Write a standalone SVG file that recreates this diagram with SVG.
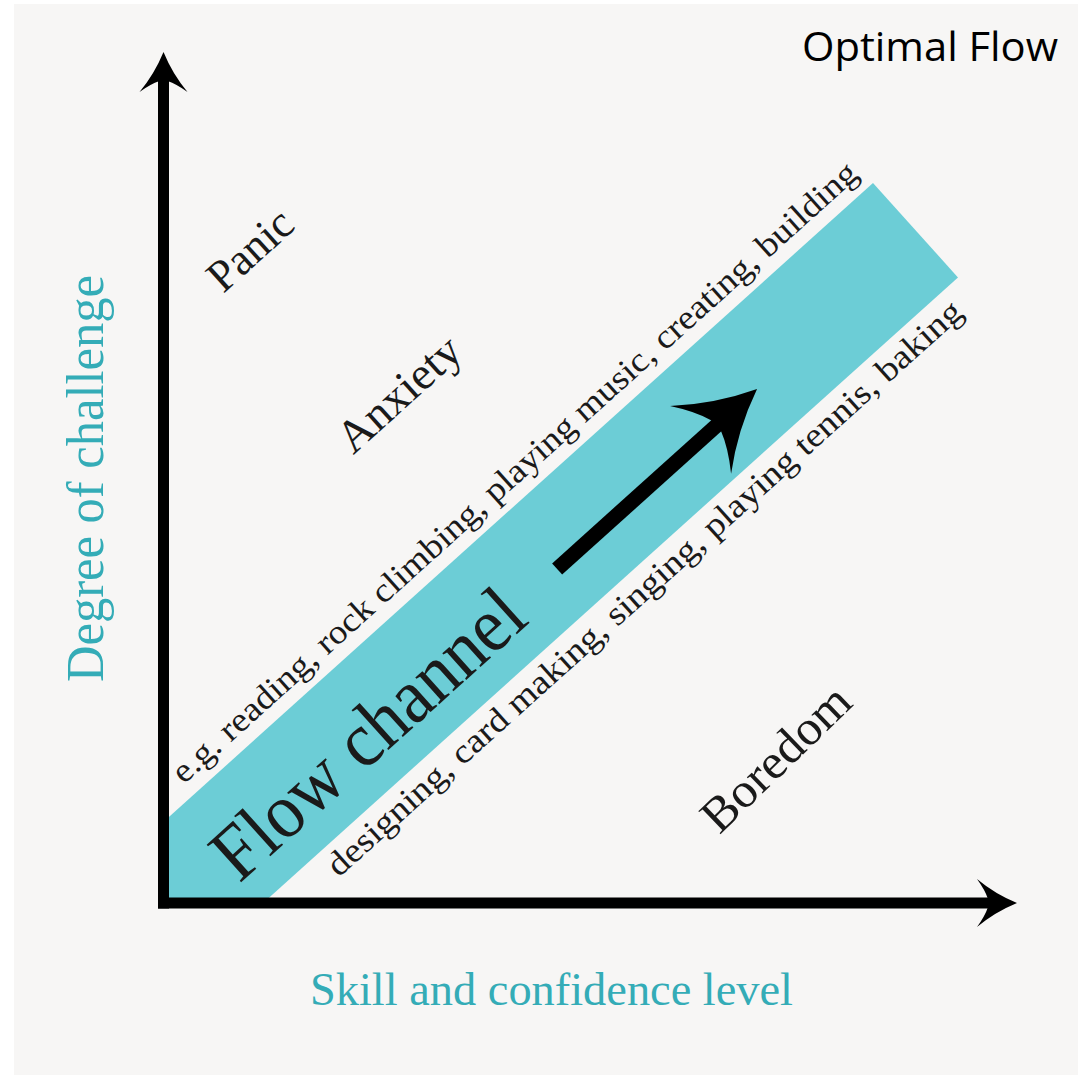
<svg xmlns="http://www.w3.org/2000/svg" width="1078" height="1075" viewBox="0 0 1078 1075">
  <style>
    .serif { font-family: "Liberation Serif", "Times New Roman", serif; fill: #1a1a1a; }
    .teal { font-family: "Liberation Serif", "Times New Roman", serif; fill: #34acb7; }
    .title { font-family: "Open Sans", "Noto Sans", sans-serif; fill: #000000; }
    .axis { stroke: #000000; stroke-width: 11; fill: none; stroke-linecap: butt; }
    .shaft { stroke: #000000; stroke-width: 15; fill: none; stroke-linecap: butt; }
  </style>
  <defs>
    <path id="head" d="M0,0 Q-22,-9 -40,-24 Q-32,-13 -29,-4 L-29,4 Q-32,13 -40,24 Q-22,9 0,0 Z" fill="#000000"/>
    <clipPath id="plotClip">
      <rect x="160" y="0" width="918" height="903"/>
    </clipPath>
  </defs>

  <g id="background">
    <rect x="0" y="0" width="1078" height="1075" fill="#ffffff"/>
    <rect x="14" y="4" width="1064" height="1071" fill="#f7f6f5"/>
  </g>

  <g id="flow-band" clip-path="url(#plotClip)">
    <rect transform="translate(873,183) rotate(-42)" x="-1300" y="0" width="1300" height="127" fill="#6ccdd6"/>
  </g>

  <g id="band-texts" transform="translate(873,183) rotate(-42)">
    <g id="examples-upper">
      <text class="serif" x="-915" y="-14" font-size="34" textLength="910" lengthAdjust="spacingAndGlyphs">e.g. reading, rock climbing, playing music, creating, building</text>
    </g>
    <g id="flow-channel">
      <text class="serif" x="-940" y="97" font-size="78" textLength="392" lengthAdjust="spacingAndGlyphs">Flow channel</text>
    </g>
    <g id="examples-lower">
      <text class="serif" x="-862" y="159" font-size="34" textLength="842" lengthAdjust="spacingAndGlyphs">designing, card making, singing, playing tennis, baking</text>
    </g>
    <g id="progress-arrow">
      <line class="shaft" x1="-493" y1="75.5" x2="-274" y2="75.5"/>
      <use href="#head" transform="translate(-224,75.5) scale(1.9)"/>
    </g>
  </g>

  <g id="connectors">
    <line class="axis" x1="163.5" y1="80" x2="163.5" y2="908.5"/>
    <line class="axis" x1="158" y1="903" x2="990" y2="903"/>
    <use href="#head" transform="translate(163.5,52) rotate(-90)"/>
    <use href="#head" transform="translate(1017,903)"/>
  </g>

  <g id="panic">
    <text class="serif" transform="translate(260,261) rotate(-42)" x="0" y="0" font-size="45" text-anchor="middle" textLength="99" lengthAdjust="spacingAndGlyphs">Panic</text>
  </g>
  <g id="anxiety">
    <text class="serif" transform="translate(409,405) rotate(-42)" x="0" y="0" font-size="46" text-anchor="middle" textLength="150" lengthAdjust="spacingAndGlyphs">Anxiety</text>
  </g>
  <g id="boredom">
    <text class="serif" transform="translate(787,770) rotate(-44)" x="0" y="0" font-size="49" text-anchor="middle" textLength="188" lengthAdjust="spacingAndGlyphs">Boredom</text>
  </g>

  <g id="y-axis-label">
    <text class="teal" transform="translate(103,682) rotate(-90)" x="0" y="0" font-size="52" textLength="407" lengthAdjust="spacingAndGlyphs">Degree of challenge</text>
  </g>
  <g id="x-axis-label">
    <text class="teal" x="310" y="1005" font-size="47" textLength="483" lengthAdjust="spacingAndGlyphs">Skill and confidence level</text>
  </g>
  <g id="title">
    <text class="title" x="802" y="61" font-size="40" textLength="256" lengthAdjust="spacingAndGlyphs">Optimal Flow</text>
  </g>
</svg>
